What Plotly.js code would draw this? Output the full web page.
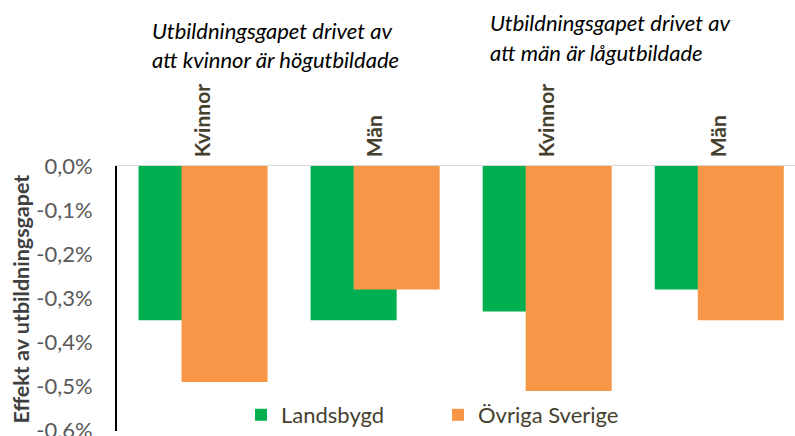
<!DOCTYPE html>
<html>
<head>
<meta charset="utf-8">
<script src="https://cdn.plot.ly/plotly-3.0.1.min.js"></script>
<style>html,body{margin:0;padding:0;background:#fff;}</style>
</head>
<body>
<div id="chart" style="width:795px;height:436px;"></div>
<script>
const categories = ['Kvinnor', 'Män', 'Kvinnor', 'Män'];
const landsbygd = [-0.0035, -0.0035, -0.0033, -0.0028];
const ovrigaSverige = [-0.0049, -0.0028, -0.0051, -0.0035];
const seriesNames = ['Landsbygd', 'Övriga Sverige'];
const yTickVals = [0, -0.001, -0.002, -0.003, -0.004, -0.005, -0.006];
const yTickText = ['0,0%', '-0,1%', '-0,2%', '-0,3%', '-0,4%', '-0,5%', '-0,6%'];
const titleLeft = ['Utbildningsgapet drivet av', 'att kvinnor är högutbildade'];
const titleRight = ['Utbildningsgapet drivet av', 'att män är lågutbildade'];
const yTitle = 'Effekt av utbildningsgapet';

const xIdx = categories.map((_, i) => i);
const FONT = 'Lato, "Open Sans", sans-serif';
const plotW = 795 - 117, plotH = 436 - 166 - 2;
const px = v => (v - 117) / plotW;
const py = v => (434 - v) / plotH;

const traces = [
  {type: 'bar', name: seriesNames[0], x: xIdx, y: landsbygd, width: 0.5, offset: -0.375,
   marker: {color: '#00B050'}, hoverinfo: 'y'},
  {type: 'bar', name: seriesNames[1], x: xIdx, y: ovrigaSverige, width: 0.5, offset: -0.125,
   marker: {color: '#F79646'}, hoverinfo: 'y'}
];

const ann = [];
function addTitle(lines, left, y1, y2) {
  [y1, y2].forEach((yy, k) => ann.push({
    text: lines[k], xref: 'paper', yref: 'paper', x: px(left), y: py(yy),
    xanchor: 'left', yanchor: 'middle', showarrow: false,
    font: {family: FONT, size: 22, color: '#000', style: 'italic'}
  }));
}
addTitle(titleLeft, 150, 29, 58);
addTitle(titleRight, 488, 21, 51);
ann.push({text: '<b>' + yTitle + '</b>', xref: 'paper', yref: 'paper', x: px(21), y: py(301),
  xanchor: 'center', yanchor: 'middle', textangle: -90, showarrow: false,
  font: {family: FONT, size: 21.5, color: '#404040'}});

const layout = {
  width: 795, height: 436,
  margin: {l: 117, r: 0, t: 166, b: 2, pad: 0},
  paper_bgcolor: '#fff', plot_bgcolor: '#fff',
  barmode: 'overlay',
  showlegend: true,
  legend: {orientation: 'h', x: px(241), y: py(418), xanchor: 'left', yanchor: 'middle',
    bgcolor: 'rgba(0,0,0,0)', entrywidth: 152, entrywidthmode: 'pixels',
    font: {family: FONT, size: 22, color: '#45412e'}},
  xaxis: {range: [-0.5, 3.44], side: 'top', tickmode: 'array', tickvals: xIdx,
    ticktext: categories.map(c => '<b>' + c + '</b>'), tickangle: -90,
    showline: true, linecolor: '#d9d9d9', linewidth: 1.5, showgrid: false, zeroline: false,
    ticks: '', ticklabelstandoff: 3, fixedrange: true,
    tickfont: {family: FONT, size: 21, color: '#45412e'}},
  yaxis: {range: [-0.00601, 0], tickmode: 'array', tickvals: yTickVals, ticktext: yTickText,
    showline: true, linecolor: '#000', linewidth: 2, showgrid: false, zeroline: false,
    ticks: '', ticklabelstandoff: 18, ticklabeloverflow: 'allow', fixedrange: true,
    tickfont: {family: FONT, size: 22, color: '#595959'}},
  annotations: ann
};

Plotly.newPlot('chart', traces, layout, {displayModeBar: false, staticPlot: true});
</script>
</body>
</html>
